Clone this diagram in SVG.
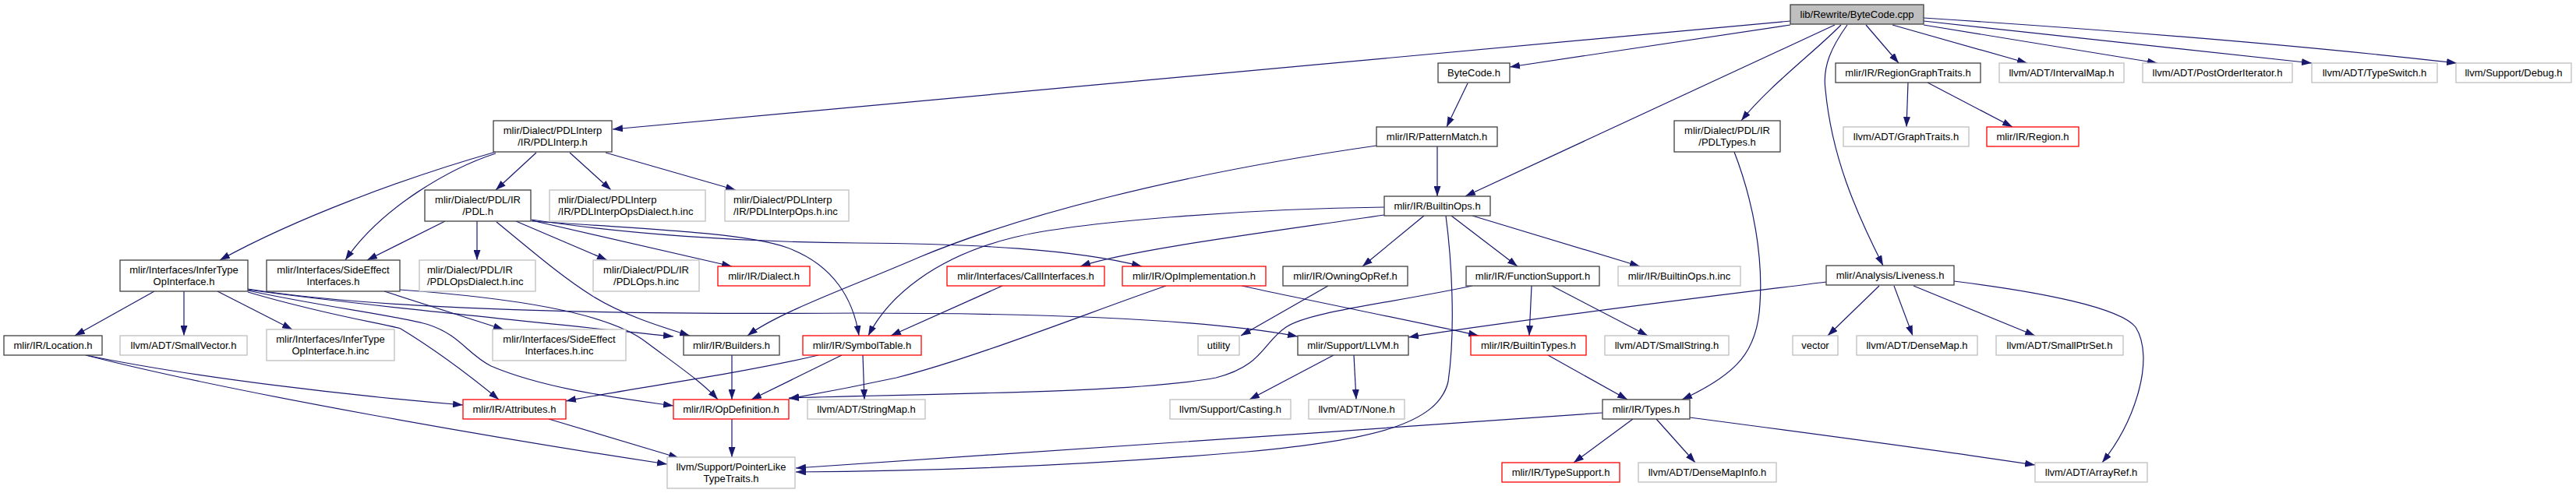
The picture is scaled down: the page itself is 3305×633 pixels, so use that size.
<svg xmlns="http://www.w3.org/2000/svg" width="3305" height="633" viewBox="0 0 3305 633">
<style>
rect{stroke-width:1.3}
.n rect{fill:#fff;stroke:#404040}
.g rect{fill:#fff;stroke:#bfbfbf}
.r rect{fill:#fff;stroke:#ff0000}
.root rect{fill:#bfbfbf;stroke:#404040}
text{font-family:"Liberation Sans",Arial,sans-serif;font-size:13px;fill:#000;text-anchor:middle}
text.l{text-anchor:start}
#edges path{fill:none;stroke:#191970;stroke-width:1.2;marker-end:url(#ah)}
</style>
<defs>
<marker id="ah" markerUnits="userSpaceOnUse" markerWidth="13" markerHeight="9" refX="13" refY="4.5" orient="auto">
<path d="M0,0 L13,4.5 L0,9 z" fill="#191970"/>
</marker>
</defs>
<rect width="3305" height="633" fill="#fff"/>
<g id="edges">
<path d="M2297,27 L786,166"/>
<path d="M2297,32 L1937,86"/>
<path d="M2354,32 L1880,252"/>
<path d="M2362,32 C2330,65 2270,110 2234,155"/>
<path d="M2370,32 C2350,60 2338,85 2342,115 C2350,200 2380,270 2416,341"/>
<path d="M2394,32 L2436,81"/>
<path d="M2428,32 L2601,81"/>
<path d="M2468,32 L2768,81"/>
<path d="M2468,27 L2966,81"/>
<path d="M2468,23 C2700,38 2950,58 3152,81"/>
<path d="M1883,107 L1856,163"/>
<path d="M1844,188 L1844,252"/>
<path d="M1766,187 C1500,225 1300,280 1180,330 C1100,365 1000,400 959,431"/>
<path d="M1827,277 L1748,342"/>
<path d="M1862,277 L1947,342"/>
<path d="M1889,277 L2104,342"/>
<path d="M1776,266 C1600,268 1380,285 1300,305 C1200,330 1140,380 1114,431"/>
<path d="M1776,276 C1650,295 1450,320 1386,342"/>
<path d="M1855,277 C1862,330 1868,420 1858,490 C1845,545 1760,565 1600,580 C1400,597 1200,605 1021,606"/>
<path d="M688,196 L636,244"/>
<path d="M731,196 L784,244"/>
<path d="M777,196 L944,244"/>
<path d="M636,195 C520,228 380,280 282,334"/>
<path d="M636,197 C580,215 490,265 443,334"/>
<path d="M571,284 L471,334"/>
<path d="M612,284 L612,334"/>
<path d="M662,284 L779,334"/>
<path d="M682,283 L939,342"/>
<path d="M637,285 C680,320 720,355 760,380 C800,405 850,420 885,431"/>
<path d="M682,284 C850,295 960,300 1010,318 C1070,340 1095,385 1102,431"/>
<path d="M682,282 C800,300 950,311 1100,312 C1250,313 1380,320 1465,342"/>
<path d="M198,374 L96,431"/>
<path d="M236,374 L236,431"/>
<path d="M279,374 L375,423"/>
<path d="M318,372 C450,390 650,410 864,432"/>
<path d="M318,371 C450,392 700,405 1100,402 C1350,402 1550,410 1665,432"/>
<path d="M318,373 C420,395 510,405 550,417 C590,430 600,455 630,470 C700,500 800,512 864,521"/>
<path d="M318,375 C420,405 490,415 514,422 C560,450 600,480 640,513"/>
<path d="M493,374 L646,423"/>
<path d="M513,372 C650,382 780,400 830,440 C870,470 900,490 921,513"/>
<path d="M110,456 C250,485 450,508 594,520"/>
<path d="M110,456 C300,505 650,565 856,596"/>
<path d="M939,456 L939,513"/>
<path d="M1050,456 C950,480 800,500 726,515"/>
<path d="M1080,456 L964,513"/>
<path d="M1107,456 L1109,513"/>
<path d="M1496,367 C1400,400 1250,460 1150,485 C1080,500 1040,507 1012,512"/>
<path d="M1593,367 C1700,390 1850,420 1897,431"/>
<path d="M1889,367 C1780,390 1680,400 1650,420 C1620,440 1620,470 1560,485 C1450,505 1200,505 1012,511"/>
<path d="M1704,367 L1592,431"/>
<path d="M1965,367 L1962,431"/>
<path d="M1991,367 L2114,431"/>
<path d="M1711,456 L1603,513"/>
<path d="M1737,456 L1740,513"/>
<path d="M1986,456 L2088,513"/>
<path d="M2343,362 C2200,380 1950,410 1807,433"/>
<path d="M2411,367 L2345,431"/>
<path d="M2430,367 L2454,431"/>
<path d="M2455,367 L2611,431"/>
<path d="M2507,361 C2620,375 2720,395 2740,420 C2765,460 2740,540 2697,594"/>
<path d="M2225,195 C2250,260 2262,330 2258,390 C2255,450 2230,480 2158,513"/>
<path d="M2056,530 C1700,555 1200,590 1021,601"/>
<path d="M2095,538 L2019,594"/>
<path d="M2125,538 L2175,594"/>
<path d="M2168,536 C2350,560 2500,580 2611,597"/>
<path d="M2448,106 L2446,163"/>
<path d="M2473,106 L2582,163"/>
<path d="M939,538 L939,587"/>
<path d="M704,538 L871,588"/>
<path d="M1286,367 L1143,431"/>
</g>
<g id="node-cpp" class="root"><rect x="2297" y="6" width="171" height="25"/><text x="2382.5" y="23">lib/Rewrite/ByteCode.cpp</text></g>
<g id="node-bytecode-h" class="n"><rect x="1845" y="81" width="92" height="25"/><text x="1891" y="98">ByteCode.h</text></g>
<g id="node-regiongraphtraits" class="n"><rect x="2355" y="81" width="186" height="25"/><text x="2448" y="98">mlir/IR/RegionGraphTraits.h</text></g>
<g id="node-intervalmap" class="g"><rect x="2565" y="81" width="160" height="25"/><text x="2645" y="98">llvm/ADT/IntervalMap.h</text></g>
<g id="node-postorderiterator" class="g"><rect x="2749" y="81" width="192" height="25"/><text x="2845" y="98">llvm/ADT/PostOrderIterator.h</text></g>
<g id="node-typeswitch" class="g"><rect x="2966" y="81" width="161" height="25"/><text x="3046.5" y="98">llvm/ADT/TypeSwitch.h</text></g>
<g id="node-debug" class="g"><rect x="3151" y="81" width="148" height="25"/><text x="3225" y="98">llvm/Support/Debug.h</text></g>
<g id="node-pdlinterp" class="n"><rect x="633" y="155" width="152" height="40"/><text x="709" y="171.5">mlir/Dialect/PDLInterp</text><text x="709" y="187">/IR/PDLInterp.h</text></g>
<g id="node-patternmatch" class="n"><rect x="1766" y="163" width="155" height="25"/><text x="1843.5" y="180">mlir/IR/PatternMatch.h</text></g>
<g id="node-pdltypes" class="n"><rect x="2148" y="155" width="136" height="40"/><text x="2216" y="171.5">mlir/Dialect/PDL/IR</text><text x="2216" y="187">/PDLTypes.h</text></g>
<g id="node-graphtraits" class="g"><rect x="2365" y="163" width="161" height="25"/><text x="2445.5" y="180">llvm/ADT/GraphTraits.h</text></g>
<g id="node-region" class="r"><rect x="2549" y="163" width="118" height="25"/><text x="2608" y="180">mlir/IR/Region.h</text></g>
<g id="node-pdl" class="n"><rect x="545" y="244" width="136" height="40"/><text x="613" y="260.5">mlir/Dialect/PDL/IR</text><text x="613" y="276">/PDL.h</text></g>
<g id="node-pdlinterpopsdialect" class="g"><rect x="705" y="244" width="200" height="40"/><text class="l" x="716" y="260.5">mlir/Dialect/PDLInterp</text><text class="l" x="716" y="276">/IR/PDLInterpOpsDialect.h.inc</text></g>
<g id="node-pdlinterpops" class="g"><rect x="930" y="244" width="159" height="40"/><text class="l" x="941" y="260.5">mlir/Dialect/PDLInterp</text><text class="l" x="941" y="276">/IR/PDLInterpOps.h.inc</text></g>
<g id="node-builtinops" class="n"><rect x="1776" y="252" width="136" height="25"/><text x="1844" y="269">mlir/IR/BuiltinOps.h</text></g>
<g id="node-infertype" class="n"><rect x="154" y="334" width="164" height="40"/><text x="236" y="350.5">mlir/Interfaces/InferType</text><text x="236" y="366">OpInterface.h</text></g>
<g id="node-sideeffect" class="n"><rect x="342" y="334" width="171" height="40"/><text x="427.5" y="350.5">mlir/Interfaces/SideEffect</text><text x="427.5" y="366">Interfaces.h</text></g>
<g id="node-pdlopsdialect" class="g"><rect x="538" y="334" width="149" height="40"/><text class="l" x="548" y="350.5">mlir/Dialect/PDL/IR</text><text class="l" x="548" y="366">/PDLOpsDialect.h.inc</text></g>
<g id="node-pdlops" class="g"><rect x="761" y="334" width="136" height="40"/><text x="829" y="350.5">mlir/Dialect/PDL/IR</text><text x="829" y="366">/PDLOps.h.inc</text></g>
<g id="node-dialect" class="r"><rect x="921" y="342" width="118" height="25"/><text x="980" y="359">mlir/IR/Dialect.h</text></g>
<g id="node-callinterfaces" class="r"><rect x="1215" y="342" width="202" height="25"/><text x="1316" y="359">mlir/Interfaces/CallInterfaces.h</text></g>
<g id="node-opimplementation" class="r"><rect x="1440" y="342" width="184" height="25"/><text x="1532" y="359">mlir/IR/OpImplementation.h</text></g>
<g id="node-owningopref" class="n"><rect x="1646" y="342" width="160" height="25"/><text x="1726" y="359">mlir/IR/OwningOpRef.h</text></g>
<g id="node-functionsupport" class="n"><rect x="1881" y="342" width="171" height="25"/><text x="1966.5" y="359">mlir/IR/FunctionSupport.h</text></g>
<g id="node-builtinops-inc" class="g"><rect x="2076" y="342" width="157" height="25"/><text x="2154.5" y="359">mlir/IR/BuiltinOps.h.inc</text></g>
<g id="node-liveness" class="n"><rect x="2343" y="341" width="164" height="25"/><text x="2425" y="358">mlir/Analysis/Liveness.h</text></g>
<g id="node-location" class="n"><rect x="5" y="431" width="126" height="25"/><text x="68" y="448">mlir/IR/Location.h</text></g>
<g id="node-smallvector" class="g"><rect x="154" y="431" width="163" height="25"/><text x="235.5" y="448">llvm/ADT/SmallVector.h</text></g>
<g id="node-infertype-inc" class="g"><rect x="342" y="423" width="164" height="40"/><text x="424" y="439.5">mlir/Interfaces/InferType</text><text x="424" y="455">OpInterface.h.inc</text></g>
<g id="node-sideeffect-inc" class="g"><rect x="632" y="423" width="171" height="40"/><text x="717.5" y="439.5">mlir/Interfaces/SideEffect</text><text x="717.5" y="455">Interfaces.h.inc</text></g>
<g id="node-builders" class="n"><rect x="877" y="431" width="123" height="25"/><text x="938.5" y="448">mlir/IR/Builders.h</text></g>
<g id="node-symboltable" class="r"><rect x="1030" y="431" width="152" height="25"/><text x="1106" y="448">mlir/IR/SymbolTable.h</text></g>
<g id="node-utility" class="g"><rect x="1537" y="431" width="53" height="25"/><text x="1563.5" y="448">utility</text></g>
<g id="node-llvm" class="n"><rect x="1665" y="431" width="142" height="25"/><text x="1736" y="448">mlir/Support/LLVM.h</text></g>
<g id="node-builtintypes" class="r"><rect x="1887" y="431" width="148" height="25"/><text x="1961" y="448">mlir/IR/BuiltinTypes.h</text></g>
<g id="node-smallstring" class="g"><rect x="2059" y="431" width="159" height="25"/><text x="2138.5" y="448">llvm/ADT/SmallString.h</text></g>
<g id="node-vector" class="g"><rect x="2300" y="431" width="58" height="25"/><text x="2329" y="448">vector</text></g>
<g id="node-densemap" class="g"><rect x="2382" y="431" width="155" height="25"/><text x="2459.5" y="448">llvm/ADT/DenseMap.h</text></g>
<g id="node-smallptrset" class="g"><rect x="2561" y="431" width="163" height="25"/><text x="2642.5" y="448">llvm/ADT/SmallPtrSet.h</text></g>
<g id="node-attributes" class="r"><rect x="594" y="513" width="132" height="25"/><text x="660" y="530">mlir/IR/Attributes.h</text></g>
<g id="node-opdefinition" class="r"><rect x="864" y="513" width="148" height="25"/><text x="938" y="530">mlir/IR/OpDefinition.h</text></g>
<g id="node-stringmap" class="g"><rect x="1036" y="513" width="151" height="25"/><text x="1111.5" y="530">llvm/ADT/StringMap.h</text></g>
<g id="node-casting" class="g"><rect x="1501" y="513" width="155" height="25"/><text x="1578.5" y="530">llvm/Support/Casting.h</text></g>
<g id="node-none" class="g"><rect x="1679" y="513" width="123" height="25"/><text x="1740.5" y="530">llvm/ADT/None.h</text></g>
<g id="node-types" class="n"><rect x="2056" y="513" width="112" height="25"/><text x="2112" y="530">mlir/IR/Types.h</text></g>
<g id="node-pointerlike" class="g"><rect x="856" y="587" width="164" height="40"/><text x="938" y="603.5">llvm/Support/PointerLike</text><text x="938" y="619">TypeTraits.h</text></g>
<g id="node-typesupport" class="r"><rect x="1927" y="594" width="151" height="25"/><text x="2002.5" y="611">mlir/IR/TypeSupport.h</text></g>
<g id="node-densemapinfo" class="g"><rect x="2102" y="594" width="177" height="25"/><text x="2190.5" y="611">llvm/ADT/DenseMapInfo.h</text></g>
<g id="node-arrayref" class="g"><rect x="2611" y="594" width="144" height="25"/><text x="2683" y="611">llvm/ADT/ArrayRef.h</text></g>
</svg>
